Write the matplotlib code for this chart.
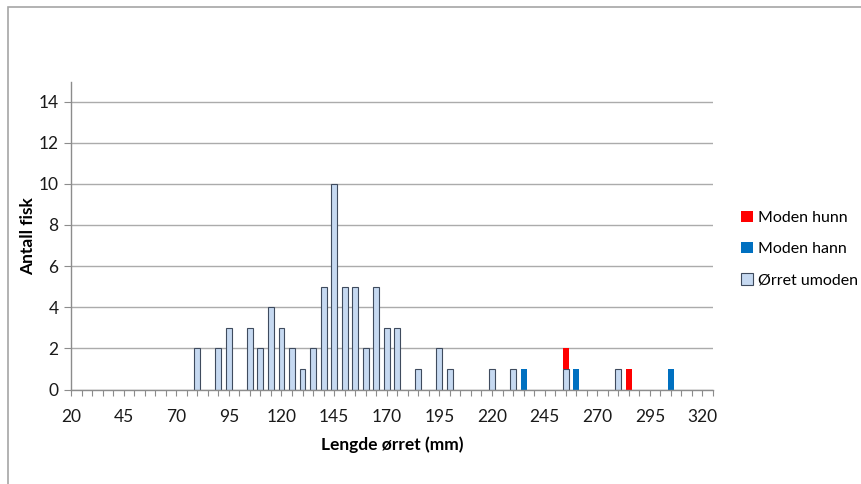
import matplotlib
matplotlib.use("Agg")
import matplotlib.pyplot as plt
from matplotlib.patches import Rectangle, Patch
import numpy as np

# ---- data ----
umoden_len = [80, 90, 95, 105, 110, 115, 120, 125, 130, 135, 140, 145, 150, 155,
              160, 165, 170, 175, 185, 195, 200, 220, 230, 255, 280]
umoden_cnt = [2, 2, 3, 3, 2, 4, 3, 2, 1, 2, 5, 10, 5, 5,
              2, 5, 3, 3, 1, 2, 1, 1, 1, 1, 1]
hann_len = [235, 260, 305]
hann_cnt = [1, 1, 1]
hunn_len = [255, 285]
hunn_cnt = [1, 1]
x_ticklabels = [20, 45, 70, 95, 120, 145, 170, 195, 220, 245, 270, 295, 320]
y_ticks = [0, 2, 4, 6, 8, 10, 12, 14]

FONT = ["Lato", "DejaVu Sans"]
plt.rcParams['font.family'] = FONT

W, H = 862, 484
fig = plt.figure(figsize=(W / 100, H / 100), dpi=100)
ax = fig.add_axes([71 / W, 1 - 389.5 / H, (713 - 71) / W, (389.5 - 82) / H])

bw = 2.8
c_um = "#C6D9F1"
c_hann = "#0070C0"
c_hunn = "#FF0000"
edge = "#3F4B5E"

ax.bar(umoden_len, umoden_cnt, width=bw, color=c_um, edgecolor=edge,
       linewidth=0.8, zorder=3, label="Ørret umoden")
um_map = dict(zip(umoden_len, umoden_cnt))
hann_base = [um_map.get(v, 0) for v in hann_len]
ax.bar(hann_len, hann_cnt, bottom=hann_base, width=bw, color=c_hann,
       linewidth=0, zorder=3, label="Moden hann")
hunn_base = [um_map.get(v, 0) for v in hunn_len]
ax.bar(hunn_len, hunn_cnt, bottom=hunn_base, width=bw, color=c_hunn,
       linewidth=0, zorder=3, label="Moden hunn")

ax.set_xlim(20, 325)
ax.set_ylim(0, 14.95)
ax.set_xticks(x_ticklabels)
ax.set_xticklabels([str(v) for v in x_ticklabels])
ax.set_xticks(np.arange(20, 326, 5), minor=True)
ax.set_yticks(y_ticks)
ax.set_yticklabels([str(v) for v in y_ticks])

gray = "#8C8C8C"
for s in ["top", "right"]:
    ax.spines[s].set_visible(False)
for s in ["left", "bottom"]:
    ax.spines[s].set_color(gray)
    ax.spines[s].set_linewidth(1.0)
ax.spines["bottom"].set_zorder(4)

ax.yaxis.grid(True, color="#ABABAB", linewidth=1.0, zorder=0)
ax.set_axisbelow(True)

ax.tick_params(axis="x", which="both", direction="out", length=4, width=0.8,
               color=gray, labelsize=12.5, pad=10, labelcolor="#1a1a1a")
ax.tick_params(axis="y", which="major", direction="out", length=5, width=0.8,
               color=gray, labelsize=12.5, pad=4, labelcolor="#1a1a1a")

ax.set_xlabel("Lengde ørret (mm)", fontsize=12.5, fontweight="bold", labelpad=8)
ax.set_ylabel("Antall fisk", fontsize=12.5, fontweight="bold", labelpad=2)

handles = [Patch(facecolor=c_hunn, edgecolor="none"),
           Patch(facecolor=c_hann, edgecolor="none"),
           Patch(facecolor=c_um, edgecolor=edge, linewidth=0.8)]
labels = ["Moden hunn", "Moden hann", "Ørret umoden"]
fig.legend(handles, labels, loc="center left",
           bbox_to_anchor=(735 / W, 1 - 249 / H), frameon=False,
           fontsize=11.5, handlelength=0.75, handleheight=0.75,
           handletextpad=0.3, labelspacing=1.05, borderaxespad=0)

fig.patches.append(Rectangle((8 / W, -0.1), 1.2, 1.1 - 7 / H,
                             transform=fig.transFigure, fill=False,
                             edgecolor="#A6A6A6", linewidth=1.2))

fig.savefig("out.png", dpi=100)
